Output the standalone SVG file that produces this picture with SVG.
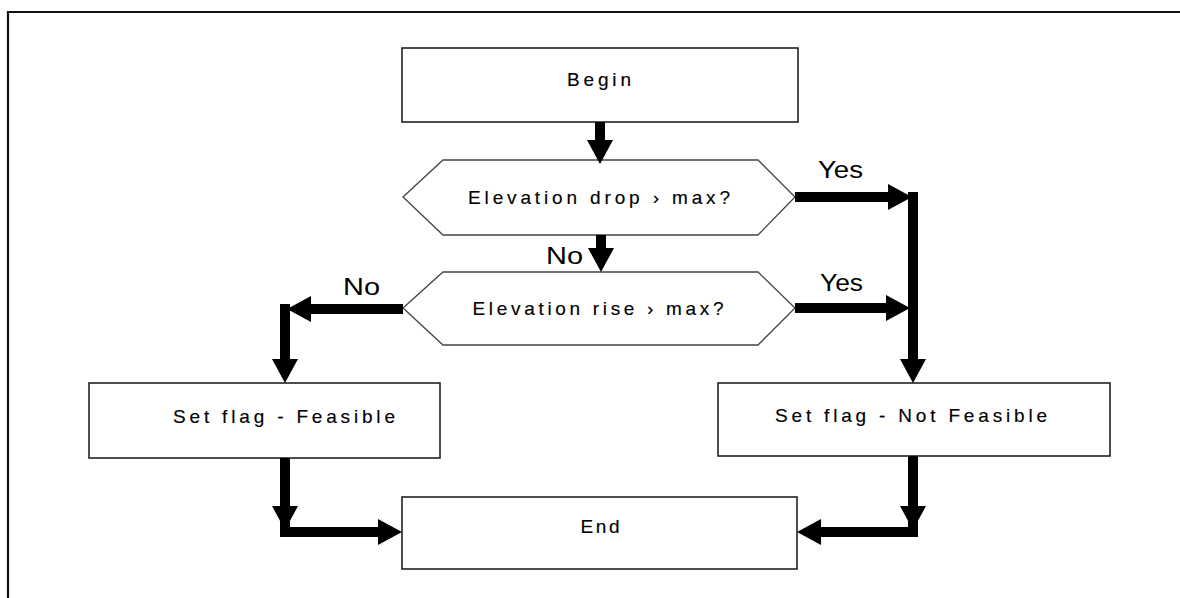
<svg xmlns="http://www.w3.org/2000/svg" width="1180" height="598" viewBox="0 0 1180 598">
  <defs>
    <marker id="head" markerUnits="userSpaceOnUse" markerWidth="24" markerHeight="26" viewBox="0 0 24 26" refX="0" refY="13" orient="auto" overflow="visible">
      <path d="M0,0 L24,13 L0,26 z" fill="#000"/>
    </marker>
    <style>
      .box { fill: #fff; stroke: #222; stroke-width: 1.6; }
      .hex { fill: #fff; stroke: #444; stroke-width: 1.3; }
      .t { font-family: "Liberation Sans", Arial, sans-serif; font-size: 19px; fill: #000; text-anchor: middle; stroke: #000; stroke-width: 0.15; }
      .lbl { font-family: "Liberation Sans", Arial, sans-serif; font-size: 23px; fill: #000; }
      .c { fill: none; stroke: #000; stroke-width: 10; stroke-linejoin: miter; stroke-linecap: butt; }
      .ca { fill: none; stroke: #000; stroke-width: 10; marker-end: url(#head); }
    </style>
  </defs>
  <rect x="0" y="0" width="1180" height="598" fill="#fff"/>
  <g id="frame">
    <path d="M8,598 V12 H1180" fill="none" stroke="#111" stroke-width="2.2"/>
  </g>

  <g id="begin">
    <rect class="box" x="402" y="48" width="396" height="74"/>
    <text class="t" x="599" y="86" textLength="64" lengthAdjust="spacing">Begin</text>
  </g>
  <g id="drop">
    <polygon class="hex" points="403,197 443,160 758,160 795,197 758,235 443,235"/>
    <text class="t" x="599" y="204" textLength="262" lengthAdjust="spacing">Elevation drop › max?</text>
  </g>
  <g id="rise">
    <polygon class="hex" points="403,308 443,272 758,272 795,308 758,345 443,345"/>
    <text class="t" x="598" y="315" textLength="251" lengthAdjust="spacing">Elevation rise › max?</text>
  </g>
  <g id="feasible">
    <rect class="box" x="89" y="383" width="351" height="75"/>
    <text class="t" x="284" y="423" textLength="222" lengthAdjust="spacing">Set flag - Feasible</text>
  </g>
  <g id="notfeasible">
    <rect class="box" x="718" y="383" width="392" height="73"/>
    <text class="t" x="911" y="422" textLength="272" lengthAdjust="spacing">Set flag - Not Feasible</text>
  </g>
  <g id="end">
    <rect class="box" x="402" y="497" width="395" height="72"/>
    <text class="t" x="600" y="533" textLength="39" lengthAdjust="spacing">End</text>
  </g>

  <g id="connectors">
    <path class="ca" d="M600,122 V140"/>
    <path class="ca" d="M601,235 V248"/>
    <path class="ca" d="M795,197 H888"/>
    <path class="c" d="M913,192 V360"/>
    <path class="ca" d="M913,335 V359"/>
    <path class="ca" d="M795,308 H886"/>
    <path class="ca" d="M403,309 H311"/>
    <path class="c" d="M285,304 V360"/>
    <path class="ca" d="M285,340 V359"/>
    <path class="c" d="M285,458 V537"/>
    <path class="ca" d="M285,490 V506"/>
    <path class="ca" d="M280,532 H378"/>
    <path class="c" d="M913,456 V537"/>
    <path class="ca" d="M913,490 V506"/>
    <path class="ca" d="M918,532 H821"/>
  </g>

  <g id="labels">
    <text class="lbl" x="818" y="178" textLength="45" lengthAdjust="spacingAndGlyphs">Yes</text>
    <text class="lbl" x="820" y="291" textLength="43" lengthAdjust="spacingAndGlyphs">Yes</text>
    <text class="lbl" x="546" y="264" textLength="37" lengthAdjust="spacingAndGlyphs">No</text>
    <text class="lbl" x="343" y="295" textLength="37" lengthAdjust="spacingAndGlyphs">No</text>
  </g>
</svg>
